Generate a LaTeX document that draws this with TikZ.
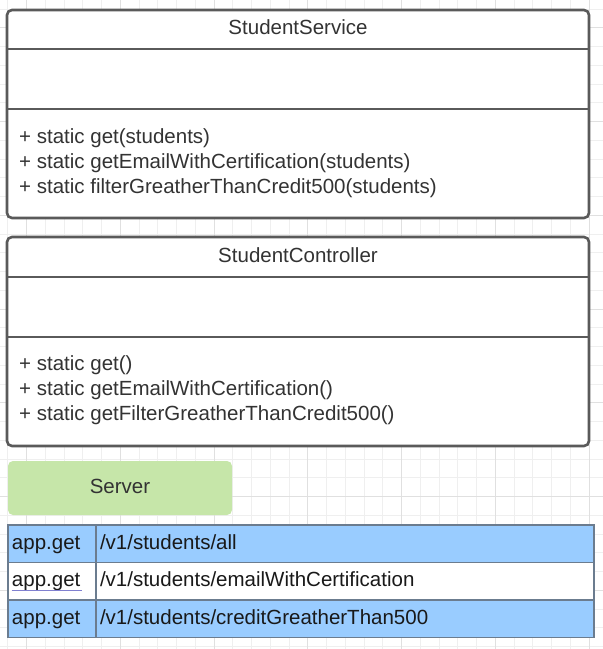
\documentclass[tikz,border=0pt]{standalone}
\usepackage{fontspec}
\setmainfont{Liberation Sans}
\usetikzlibrary{positioning}
\definecolor{umledge}{HTML}{5A5A5A}
\definecolor{umlink}{HTML}{333333}
\definecolor{srvgreen}{HTML}{C6E6A9}
\definecolor{routeblue}{HTML}{99CCFF}
\definecolor{routeedge}{HTML}{6B7C8F}
\definecolor{spellblue}{HTML}{8080D0}
\definecolor{gridlight}{HTML}{EFEFEF}
\definecolor{griddark}{HTML}{E0E0E0}
\newcommand{\umlsize}{\fontsize{20.5}{25}\selectfont}
\tikzset{
  umltext/.style={font=\umlsize, text=umlink},
  umlslot/.style={anchor=north west, minimum width=582pt, inner sep=0pt, outer sep=0pt},
  umlhead/.style={umlslot, umltext, text height=15pt, text depth=5pt},
  umlframe/.style={draw=umledge, fill=white, line width=2.6pt, rounded corners=5pt},
  umlrule/.style={draw=umledge, line width=2.6pt},
  umlop/.style={umltext, anchor=base west, inner sep=0pt},
  srvbox/.style={fill=srvgreen, rounded corners=5pt, anchor=north west, minimum width=224pt,
    minimum height=54pt, inner sep=0pt, outer sep=0pt, umltext, text height=15pt, text depth=5pt},
  routecell/.style={draw=routeedge, line width=1.3pt, anchor=north west, minimum height=37.5pt,
    inner sep=4pt, outer sep=0pt, align=left, font=\umlsize, text=black!90,
    text height=14.5pt, text depth=3.5pt},
  routekey/.style={routecell, text width=80pt},
  routepath/.style={routecell, text width=490pt},
  spellmark/.style={draw=spellblue, line width=1pt},
  gridminor/.style={draw=gridlight, line width=0.8pt},
  gridmajor/.style={draw=griddark, line width=0.8pt},
}

\begin{document}
\begin{tikzpicture}[x=1pt, y=-1pt]
  \useasboundingbox[fill=white] (0,0) rectangle (603,649);
  % background grid
  \foreach \k in {0,...,31}
    \draw[gridminor] ({7.7+18.75*\k},0) -- ({7.7+18.75*\k},649);
  \foreach \k in {0,...,34}
    \draw[gridminor] (0,{9+18.75*\k}) -- (603,{9+18.75*\k});
  \foreach \k in {0,...,6} {
    \draw[gridmajor] ({26.45+93.75*\k},0) -- ({26.45+93.75*\k},649);
    \draw[gridmajor] (0,{27.75+93.75*\k}) -- (603,{27.75+93.75*\k});
  }

  % StudentService
  \node[umlslot, minimum height=208pt] (svc) at (7,10) {};
  \draw[umlframe] (svc.north west) rectangle (svc.south east);
  \node[umlhead, minimum height=39pt] (svchead) at (7,10) {StudentService};
  \node[umlslot, minimum height=60pt, below=0pt of svchead] (svcattr) {};
  \draw[umlrule] (svcattr.north west) -- (svcattr.north east);
  \draw[umlrule] (svcattr.south west) -- (svcattr.south east);
  \node[umlop] (svcop1) at (19,143) {+ static get(students)};
  \node[umlop] (svcop2) at (19,168) {+ static getEmailWithCertification(students)};
  \node[umlop] (svcop3) at (19,193) {+ static filterGreatherThanCredit500(students)};

  % StudentController
  \node[umlslot, minimum height=209pt] (ctl) at (7,237) {};
  \draw[umlframe] (ctl.north west) rectangle (ctl.south east);
  \node[umlhead, minimum height=40pt] (ctlhead) at (7,237) {StudentController};
  \node[umlslot, minimum height=60pt, below=0pt of ctlhead] (ctlattr) {};
  \draw[umlrule] (ctlattr.north west) -- (ctlattr.north east);
  \draw[umlrule] (ctlattr.south west) -- (ctlattr.south east);
  \node[umlop] (ctlop1) at (19,370) {+ static get()};
  \node[umlop] (ctlop2) at (19,395) {+ static getEmailWithCertification()};
  \node[umlop] (ctlop3) at (19,420) {+ static getFilterGreatherThanCredit500()};

  % Server and routes
  \node[srvbox] (server) at (8,461) {Server};
  \node[routekey, fill=routeblue] (r1key) at (8,525) {app.get};
  \node[routepath, fill=routeblue, right=0pt of r1key] (r1path) {/v1/students/all};
  \node[routekey, fill=white, below=0pt of r1key] (r2key) {app.get};
  \node[routepath, fill=white, right=0pt of r2key] (r2path) {/v1/students/emailWithCertification};
  \node[routekey, fill=routeblue, below=0pt of r2key] (r3key) {app.get};
  \node[routepath, fill=routeblue, right=0pt of r3key] (r3path) {/v1/students/creditGreatherThan500};
  \draw[spellmark] ([shift={(3.5pt,-4pt)}]r2key.base west) -- ([shift={(73.5pt,-4pt)}]r2key.base west);
\end{tikzpicture}
\end{document}
